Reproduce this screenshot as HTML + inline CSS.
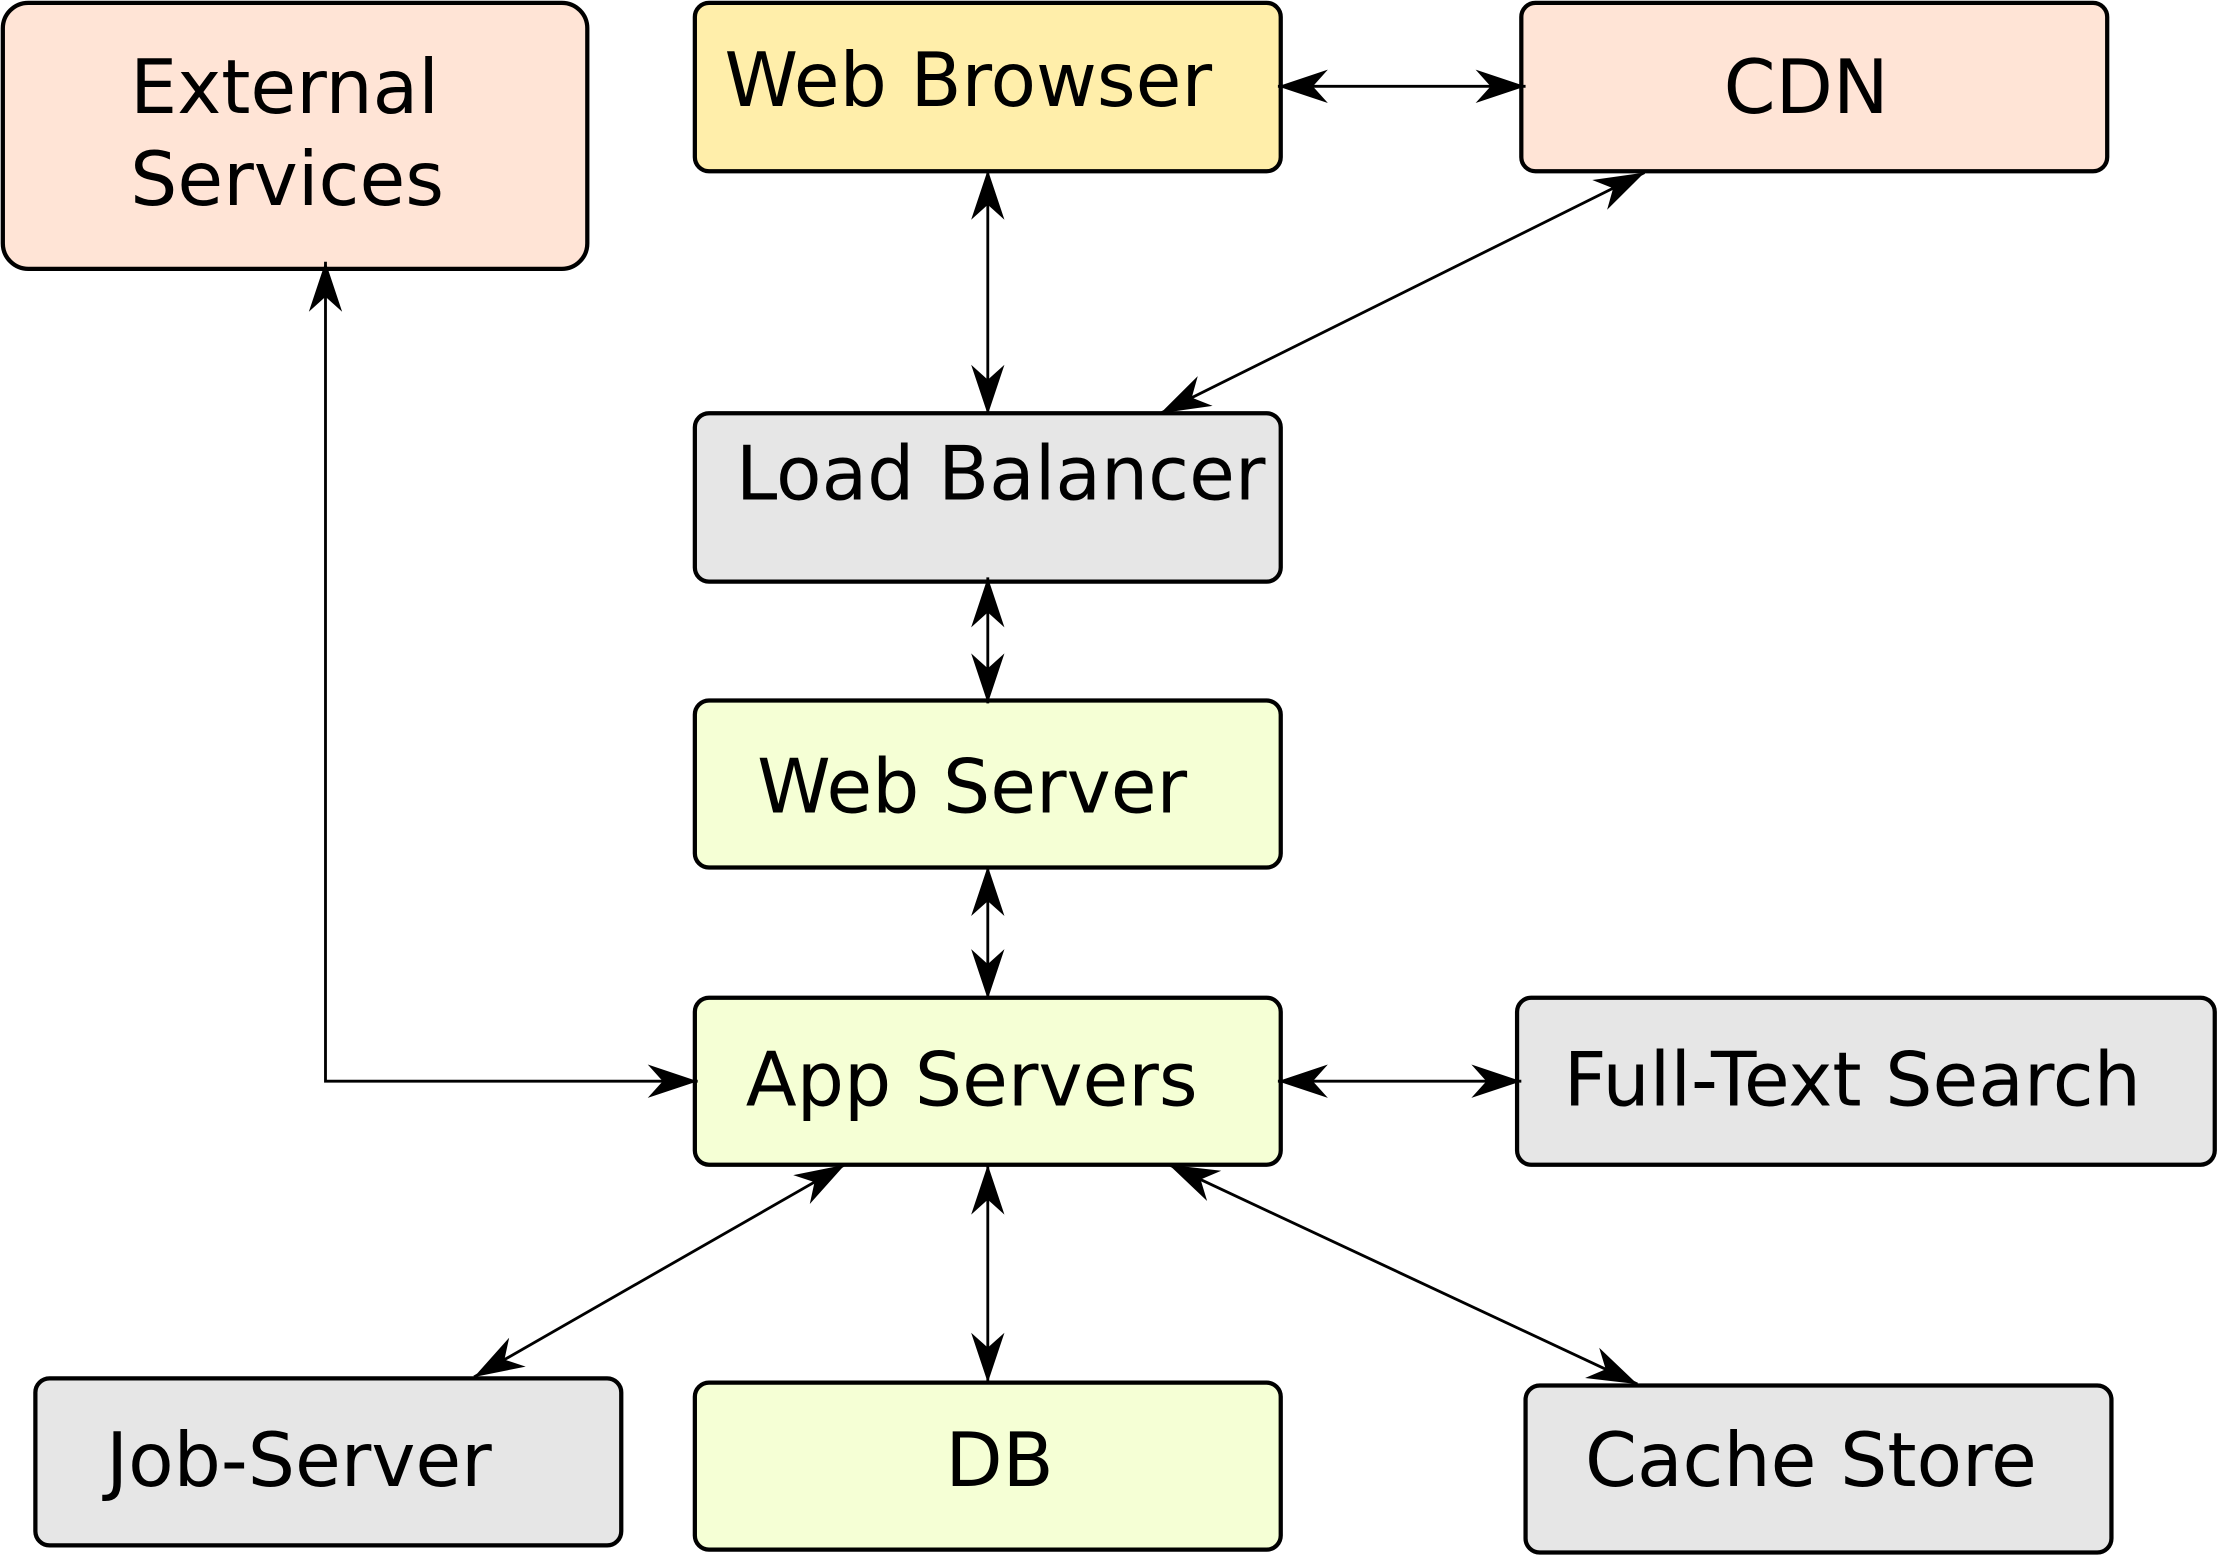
<!DOCTYPE html>
<html><head><meta charset="utf-8"><style>html,body{margin:0;padding:0;background:#fff}svg{display:block}</style></head>
<body>
<svg width="2219" height="1557" viewBox="0 0 1568 1100.2" preserveAspectRatio="none" xmlns="http://www.w3.org/2000/svg">
<defs>
<marker id="a" markerUnits="userSpaceOnUse" markerWidth="40" markerHeight="30" refX="0" refY="0" viewBox="-32 -12 34 24" orient="auto-start-reverse">
<path d="M0,0 L-30,-10 L-21,0 L-30,10 z" fill="#000"/>
</marker>
</defs>
<g stroke="#000" stroke-width="3">
<rect x="2" y="2" width="413" height="188" rx="18" fill="#ffe4d6"/>
<rect x="491" y="2" width="414" height="119" rx="10" fill="#ffeeaa"/>
<rect x="1075" y="2" width="414" height="119" rx="10" fill="#ffe4d6"/>
<rect x="491" y="292" width="414" height="119" rx="10" fill="#e6e6e6"/>
<rect x="491" y="495" width="414" height="118" rx="10" fill="#f5ffd5"/>
<rect x="491" y="705" width="414" height="118" rx="10" fill="#f5ffd5"/>
<rect x="1072" y="705" width="493" height="118" rx="10" fill="#e6e6e6"/>
<rect x="25" y="974" width="414" height="118" rx="10" fill="#e6e6e6"/>
<rect x="491" y="977" width="414" height="118" rx="10" fill="#f5ffd5"/>
<rect x="1078" y="979" width="414" height="118" rx="10" fill="#e6e6e6"/>
</g>
<g stroke="#000" stroke-width="2" fill="none" marker-start="url(#a)" marker-end="url(#a)">
<line x1="903" y1="61" x2="1078" y2="61"/>
<line x1="698" y1="120" x2="698" y2="293"/>
<line x1="1162" y1="122" x2="820" y2="292"/>
<line x1="698" y1="408" x2="698" y2="497"/>
<line x1="698" y1="612" x2="698" y2="706"/>
<polyline points="230,185 230,764 493,764"/>
<line x1="903" y1="764" x2="1075" y2="764"/>
<line x1="597" y1="823" x2="335" y2="973"/>
<line x1="698" y1="823" x2="698" y2="977"/>
<line x1="826" y1="823" x2="1157" y2="978"/>
</g>
<g font-family="DejaVu Sans, Liberation Sans, sans-serif" font-size="52.6" fill="#000">
<text x="92" y="80">External</text>
<text x="92" y="145">Services</text>
<text x="512" y="75">Web Browser</text>
<text x="1218" y="80">CDN</text>
<text x="520" y="353">Load Balancer</text>
<text x="535" y="574">Web Server</text>
<text x="527" y="781">App Servers</text>
<text x="1105" y="781">Full-Text Search</text>
<text x="75" y="1050">Job-Server</text>
<text x="668" y="1050">DB</text>
<text x="1120" y="1050">Cache Store</text>
</g>
</svg>
</body></html>
